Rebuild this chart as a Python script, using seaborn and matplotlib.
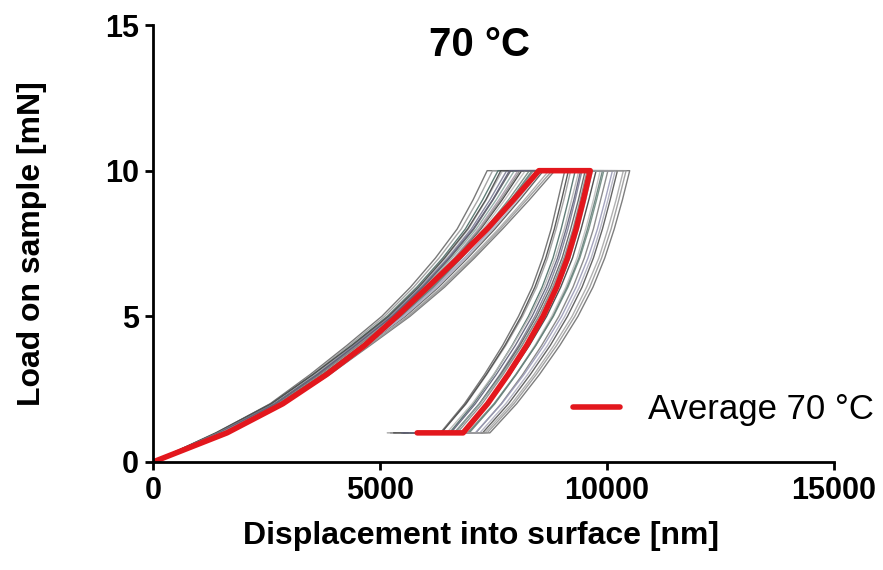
import pandas as pd
import matplotlib
matplotlib.use("Agg")
import matplotlib.pyplot as plt
import seaborn as sns

# Load steps (mN) shared by all indents
load_up_mN = [0, 1, 2, 3, 4, 5, 6, 7, 8, 9, 10]
load_down_mN = [10, 9, 8, 7, 6, 5, 4, 3, 2, 1]
hold_load_mN = 1

# Displacement (nm) of each indent on the loading branch, one row per indent
loading_nm = [
    [0, 1400, 2580, 3460, 4270, 5040, 5670, 6220, 6700, 7050, 7360],
    [0, 1410, 2610, 3500, 4320, 5100, 5740, 6300, 6790, 7160, 7480],
    [0, 1420, 2630, 3540, 4370, 5160, 5810, 6380, 6880, 7260, 7600],
    [0, 1430, 2660, 3570, 4400, 5210, 5860, 6440, 6950, 7340, 7700],
    [0, 1440, 2670, 3600, 4430, 5240, 5900, 6490, 7010, 7420, 7790],
    [0, 1440, 2690, 3620, 4470, 5280, 5950, 6540, 7070, 7490, 7880],
    [0, 1450, 2710, 3650, 4490, 5310, 5990, 6580, 7120, 7560, 7960],
    [0, 1450, 2720, 3670, 4510, 5340, 6020, 6630, 7170, 7620, 8040],
    [0, 1460, 2730, 3690, 4540, 5370, 6060, 6670, 7220, 7690, 8120],
    [0, 1460, 2750, 3710, 4560, 5400, 6090, 6710, 7270, 7750, 8200],
    [0, 1460, 2760, 3730, 4590, 5430, 6130, 6760, 7320, 7830, 8290],
    [0, 1470, 2780, 3750, 4610, 5460, 6180, 6800, 7380, 7900, 8380],
    [0, 1480, 2800, 3780, 4650, 5500, 6220, 6860, 7450, 7980, 8480],
    [0, 1490, 2820, 3820, 4690, 5560, 6290, 6930, 7530, 8080, 8600],
    [0, 1490, 2850, 3850, 4730, 5610, 6350, 7000, 7610, 8180, 8720],
    [0, 1500, 2880, 3890, 4780, 5660, 6420, 7080, 7700, 8290, 8850],
    [0, 1380, 2600, 3520, 4380, 5190, 5850, 6420, 6930, 7330, 7660],
    [0, 1430, 2700, 3660, 4520, 5350, 6040, 6650, 7200, 7660, 8080],
    [0, 1470, 2770, 3740, 4600, 5450, 6160, 6790, 7360, 7880, 8350],
    [0, 1480, 2810, 3800, 4680, 5530, 6260, 6900, 7490, 8030, 8540],
    [0, 1450, 2700, 3630, 4460, 5270, 5930, 6520, 7050, 7480, 7850],
    [0, 1500, 2860, 3870, 4750, 5630, 6380, 7040, 7650, 8230, 8790],
]

# Displacement (nm) on the unloading branch, after the hold at peak load
unloading_nm = [
    [9070, 8920, 8770, 8580, 8350, 8050, 7700, 7300, 6860, 6330],
    [9200, 9050, 8880, 8690, 8450, 8140, 7770, 7350, 6900, 6340],
    [9300, 9150, 8990, 8810, 8570, 8270, 7910, 7510, 7060, 6530],
    [9380, 9220, 9060, 8860, 8610, 8300, 7920, 7500, 7030, 6470],
    [9450, 9300, 9140, 8950, 8710, 8410, 8050, 7640, 7190, 6650],
    [9520, 9370, 9200, 9010, 8760, 8450, 8080, 7660, 7190, 6640],
    [9600, 9440, 9270, 9070, 8820, 8500, 8120, 7680, 7200, 6630],
    [9680, 9530, 9370, 9180, 8930, 8630, 8270, 7850, 7400, 6850],
    [9760, 9600, 9430, 9240, 8980, 8670, 8290, 7860, 7390, 6820],
    [9850, 9700, 9530, 9340, 9090, 8780, 8410, 7990, 7520, 6970],
    [9930, 9770, 9600, 9400, 9140, 8820, 8430, 7990, 7510, 6930],
    [10020, 9860, 9700, 9500, 9250, 8940, 8560, 8140, 7670, 7110],
    [10120, 9960, 9790, 9580, 9320, 9000, 8610, 8170, 7680, 7100],
    [10230, 10070, 9900, 9700, 9450, 9130, 8750, 8310, 7830, 7260],
    [10360, 10200, 10020, 9820, 9550, 9230, 8830, 8390, 7900, 7310],
    [10500, 10340, 10160, 9950, 9690, 9360, 8960, 8510, 8010, 7420],
    [9150, 9000, 8840, 8650, 8410, 8110, 7750, 7340, 6890, 6350],
    [9560, 9410, 9250, 9050, 8800, 8500, 8130, 7710, 7250, 6700],
    [9900, 9740, 9570, 9380, 9120, 8810, 8430, 8000, 7530, 6960],
    [10180, 10020, 9850, 9650, 9390, 9070, 8690, 8250, 7770, 7200],
    [9420, 9270, 9100, 8910, 8660, 8350, 7980, 7560, 7100, 6560],
    [10420, 10260, 10090, 9880, 9620, 9290, 8890, 8440, 7950, 7360],
]

# Displacement (nm) at the end of the low-load hold
hold_end_nm = [5230, 5160, 5480, 5370, 5650, 5520, 5570, 5850,
               5670, 5920, 5830, 6130, 5980, 6220, 6150, 6340,
               5300, 5640, 5890, 6110, 5480, 6250]

# Average curve
avg_loading_nm = [0, 1630, 2860, 3820, 4660, 5370, 6050, 6720, 7360, 7940, 8500]
avg_unloading_nm = [9630, 9480, 9320, 9130, 8890, 8590, 8230, 7820, 7370, 6830]
avg_hold_end_nm = 5820

avg_label = "Average 70 °C"
title_text = "70 °C"
x_label = "Displacement into surface [nm]"
y_label = "Load on sample [mN]"
x_ticks = [0, 5000, 10000, 15000]
y_ticks = [0, 5, 10, 15]


def curve_frame(name, up, down, hold_end):
    disp = list(up) + list(down) + [hold_end]
    load = load_up_mN + load_down_mN + [hold_load_mN]
    return pd.DataFrame({"curve": name, "step": range(len(disp)),
                         "displacement": disp, "load": load})


indents = pd.concat(
    [curve_frame(f"indent {i + 1}", up, down, end)
     for i, (up, down, end) in enumerate(zip(loading_nm, unloading_nm, hold_end_nm))],
    ignore_index=True,
)
average = curve_frame(avg_label, avg_loading_nm, avg_unloading_nm, avg_hold_end_nm)

sns.set_style("ticks")
plt.rcParams["font.family"] = ["Liberation Sans", "DejaVu Sans"]
plt.rcParams.update({"text.color": "black", "axes.labelcolor": "black",
                     "xtick.color": "black", "ytick.color": "black"})

fig = plt.figure(figsize=(8.83, 5.70), dpi=100)
ax = fig.add_axes([0.1733, 0.1895, 0.7712, 0.7666])

trace_colors = ["#6a6a6a", "#9c9c9c", "#4f6f68", "#b5b5b5", "#7e7e96", "#5d5d5d",
                "#8faaa4", "#aa9aaa", "#3f3f3f", "#c0c0c0", "#6f8a80", "#808080",
                "#9a9ab8", "#555555", "#a9a9a9", "#707070", "#4a4a4a", "#8a8a8a",
                "#66807a", "#b0b0c0", "#606078", "#989898"]

sns.lineplot(data=indents, x="displacement", y="load", hue="curve",
             palette=trace_colors, sort=False, estimator=None,
             linewidth=1.0, alpha=0.9, legend=False, ax=ax)
sns.lineplot(data=average, x="displacement", y="load", sort=False,
             estimator=None, color="#e3171d", linewidth=4.0,
             label=avg_label, ax=ax)

ax.set_xlim(0, 15000)
ax.set_ylim(0, 15)
ax.set_xticks(x_ticks)
ax.set_yticks(y_ticks)
ax.set_xticklabels([str(v) for v in x_ticks])
ax.set_yticklabels([str(v) for v in y_ticks])

sns.despine(ax=ax)
for side in ("left", "bottom"):
    ax.spines[side].set_linewidth(2.0)
    ax.spines[side].set_color("black")
ax.tick_params(axis="both", direction="out", length=6, width=2.0,
               labelsize=22, pad=4, color="black", labelcolor="black")
for lbl in ax.get_xticklabels() + ax.get_yticklabels():
    lbl.set_fontweight("bold")

ax.set_xlabel(x_label, fontsize=23, fontweight="bold")
ax.set_ylabel(y_label, fontsize=23, fontweight="bold")
ax.xaxis.set_label_coords(0.482, -0.135)
ax.yaxis.set_label_coords(-0.156, 0.5)

ax.text(7200, 14.3, title_text, ha="center", va="center",
        fontsize=29, fontweight="bold")

ax.legend(loc="center left", bbox_to_anchor=(0.617, 0.119), frameon=False,
          fontsize=25, handlelength=1.35, handletextpad=0.8,
          borderpad=0, borderaxespad=0)

fig.savefig("out.png", dpi=100)
